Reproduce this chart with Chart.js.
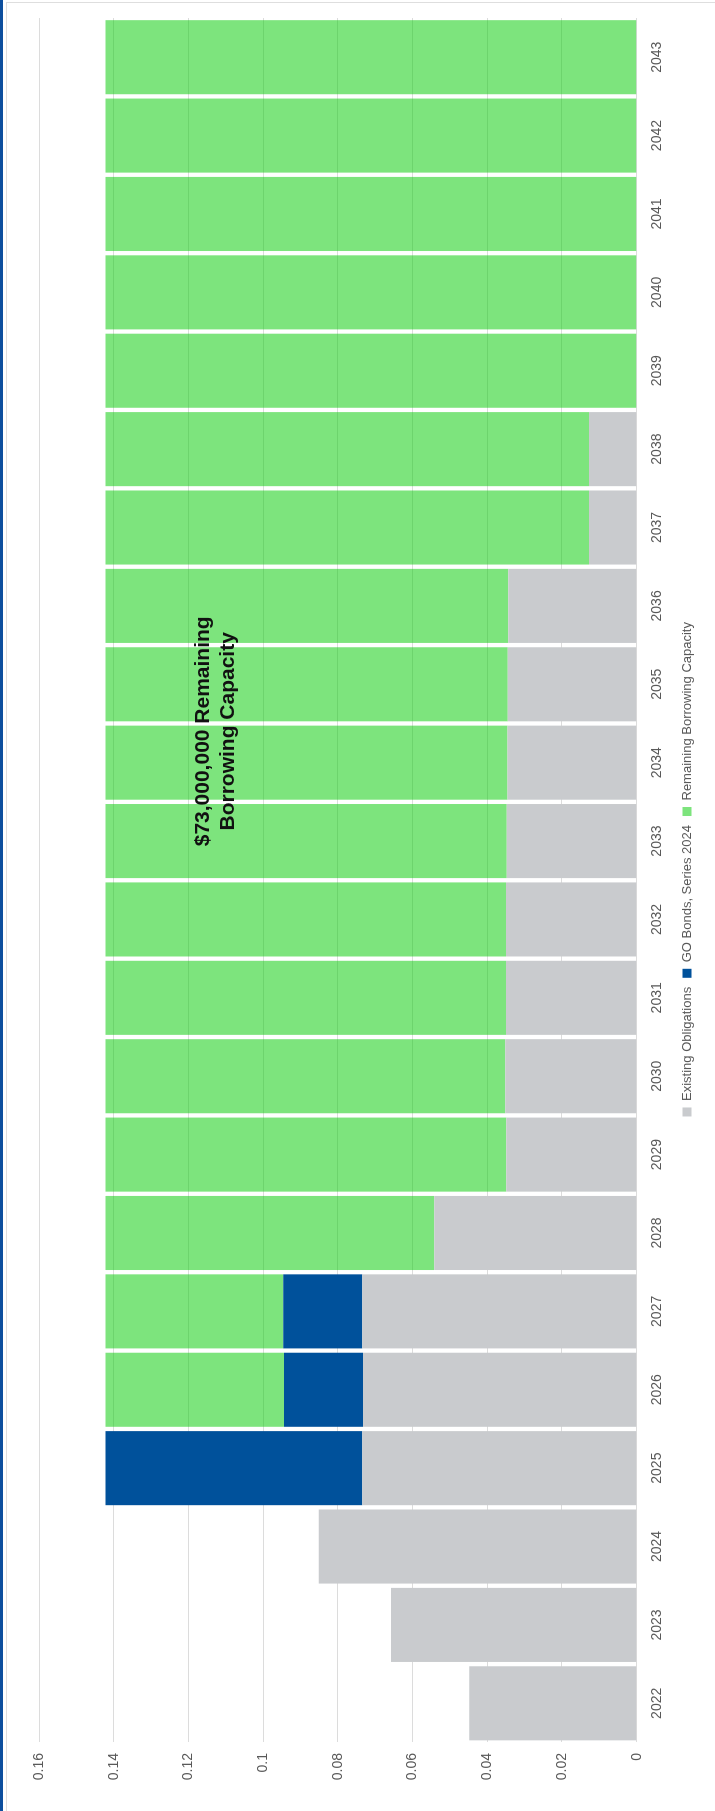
<!DOCTYPE html>
<html>
<head>
<meta charset="utf-8">
<title>Borrowing Capacity</title>
<script src="https://cdn.jsdelivr.net/npm/chart.js@4.4.1/dist/chart.umd.min.js"></script>
<style>
  html, body { margin: 0; padding: 0; background: #fff; }
  #page { position: relative; width: 715px; height: 1811px; overflow: hidden; }
  #edge { position: absolute; left: 0; top: 0; width: 3px; height: 1811px; background: #0d4f9e; }
  #frame { position: absolute; left: 6px; top: 2px; right: 0; bottom: 0;
           border-top: 1px solid #dedede; border-left: 1px solid #dedede; }
  /* the chart is drawn upright, then turned a quarter to the left */
  #turn { position: absolute; left: 0; top: 0; width: 1811px; height: 715px;
          transform-origin: 0 0; transform: translateY(1811px) rotate(-90deg); }
</style>
</head>
<body>
<div id="page">
  <div id="edge"></div>
  <div id="frame"></div>
  <div id="turn"><canvas id="debtChart" width="1811" height="715"></canvas></div>
</div>

<script>
// Data
const years = ['2022', '2023', '2024', '2025', '2026', '2027', '2028', '2029', '2030', '2031', '2032',
               '2033', '2034', '2035', '2036', '2037', '2038', '2039', '2040', '2041', '2042', '2043'];

const existingObligations = [0.0448, 0.0658, 0.0851, 0.0735, 0.0733, 0.0735, 0.0542, 0.0349, 0.0352, 0.0350, 0.0350,
                             0.0348, 0.0346, 0.0345, 0.0344, 0.0128, 0.0128, 0, 0, 0, 0, 0];

const goBonds2024 = [0, 0, 0, 0.0687, 0.0211, 0.0211, 0, 0, 0, 0, 0,
                     0, 0, 0, 0, 0, 0, 0, 0, 0, 0, 0];

const remainingCapacity = [0, 0, 0, 0, 0.0478, 0.0476, 0.0880, 0.1073, 0.1070, 0.1072, 0.1072,
                           0.1074, 0.1076, 0.1077, 0.1078, 0.1294, 0.1294, 0.1422, 0.1422, 0.1422, 0.1422, 0.1422];

const valueTicks = [0, 0.02, 0.04, 0.06, 0.08, 0.1, 0.12, 0.14, 0.16];

const noteLines = ['$73,000,000 Remaining', 'Borrowing Capacity'];
const notePlace = { category: 12.4, value: 0.1127 };

Chart.defaults.font.family = '"Liberation Sans", Arial, sans-serif';
Chart.defaults.color = '#595959';

// Bold note written over the green bars
const notePlugin = {
  id: 'note',
  afterLayout(chart) {
    // legend sits a little off centre in the original
    chart.legend.left += 11;
    chart.legend.right += 11;
  },
  afterDatasetsDraw(chart) {
    const { ctx, scales } = chart;
    const x = scales.x.getPixelForValue(notePlace.category);
    const y = scales.y.getPixelForValue(notePlace.value);
    ctx.save();
    ctx.font = 'bold 21px "Liberation Sans", Arial, sans-serif';
    ctx.fillStyle = '#111';
    ctx.textAlign = 'center';
    ctx.textBaseline = 'middle';
    ctx.fillText(noteLines[0], x, y - 12.5);
    ctx.fillText(noteLines[1], x, y + 12.5);
    ctx.restore();
  }
};

const ctx = document.getElementById('debtChart').getContext('2d');
const debtChart = new Chart(ctx, {
  type: 'bar',
  data: {
    labels: years,
    datasets: [
      {
        label: 'Existing Obligations',
        data: existingObligations,
        backgroundColor: '#c9cbce',
        barPercentage: 0.945,
        categoryPercentage: 1.0
      },
      {
        label: 'GO Bonds, Series 2024',
        data: goBonds2024,
        backgroundColor: '#00519b',
        barPercentage: 0.945,
        categoryPercentage: 1.0
      },
      {
        label: 'Remaining Borrowing Capacity',
        data: remainingCapacity,
        // see-through so the grid shows across the green
        backgroundColor: 'rgba(19, 206, 19, 0.55)',
        barPercentage: 0.945,
        categoryPercentage: 1.0
      }
    ]
  },
  options: {
    responsive: false,
    animation: false,
    devicePixelRatio: 1,
    layout: {
      padding: { left: 0, right: 18, top: 39, bottom: 11.5 }
    },
    scales: {
      x: {
        stacked: true,
        grid: { display: false, drawTicks: false },
        border: { display: false },
        ticks: {
          padding: 12,
          font: { size: 14 },
          color: '#595959',
          maxRotation: 0,
          autoSkip: false
        },
        afterFit: scale => { scale.height = 34.8; }
      },
      y: {
        stacked: true,
        min: 0,
        max: 0.16,
        grid: { color: '#dcdcdc', lineWidth: 1, drawTicks: false },
        border: { display: false },
        ticks: {
          padding: 10.5,
          font: { size: 14 },
          color: '#595959',
          callback: v => String(v)
        },
        afterBuildTicks: scale => {
          scale.ticks = valueTicks.map(v => ({ value: v }));
        },
        afterFit: scale => { scale.width = 68.5; }
      }
    },
    plugins: {
      legend: {
        position: 'bottom',
        fullSize: false,
        labels: {
          boxWidth: 9,
          boxHeight: 9,
          padding: 9,
          font: { size: 13 },
          color: '#595959'
        }
      },
      tooltip: { enabled: false }
    }
  },
  plugins: [notePlugin]
});
</script>
</body>
</html>
